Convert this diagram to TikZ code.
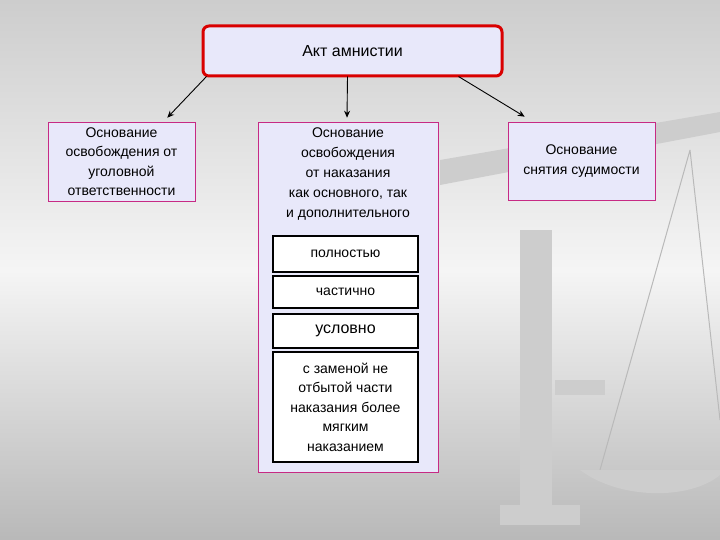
\documentclass[tikz,border=0pt]{standalone}
\usepackage{fontspec}
\setmainfont{Liberation Sans}
\usetikzlibrary{arrows.meta,calc}
\begin{document}
\begin{tikzpicture}[x=1pt,y=-1pt,
  box/.style={draw=magenta!60!violet,line width=0.6pt,fill=lav},
  inner/.style={draw=black,line width=1.8pt,fill=white},
  lbl/.style={align=center,font=\fontsize{14}{19.5}\selectfont},
  arr/.style={-{Stealth[length=7pt,width=6pt]},line width=0.9pt}]
\definecolor{lav}{RGB}{232,232,250}
\definecolor{bgtop}{RGB}{205,205,205}
\definecolor{bgmid}{RGB}{245,245,245}
\definecolor{scl}{RGB}{205,205,205}
\useasboundingbox (0,0) rectangle (720,540);
\shade[top color=bgtop,bottom color=bgmid] (0,0) rectangle (720,270);
\shade[top color=bgmid,bottom color=bgtop!90!black] (0,270) rectangle (720,540);
% faint scales
\fill[scl] (520,230) rectangle (552,520);
\fill[scl] (500,505) rectangle (580,525);
\fill[scl] (440,160) -- (720,112) -- (720,132) -- (440,185) -- cycle;
\draw[scl!90!black,line width=1pt] (690,150) -- (600,470) (690,150) -- (720,420);
\fill[scl] (580,470) .. controls (620,500) and (690,500) .. (720,475) -- (720,470) -- cycle;
\fill[scl] (555,380) rectangle (605,395);
% nodes
\node[draw=red!85!black,line width=3pt,fill=lav,rounded corners=6pt,minimum width=299pt,minimum height=50pt,lbl,font=\fontsize{16}{19}\selectfont] (top) at (352.5,51) {Акт амнистии};
\node[box,minimum width=147pt,minimum height=79pt,lbl] (l) at (121.5,161.5) {Основание\\освобождения от\\уголовной\\ответственности};
\node[box,minimum width=180pt,minimum height=350pt] (m) at (348,297) {};
\node[lbl,anchor=north,font=\fontsize{14}{20}\selectfont] (mt) at (348,124) {Основание\\освобождения\\от наказания\\как основного, так\\и дополнительного};
\node[box,minimum width=147pt,minimum height=78pt,lbl] (r) at (581.5,161) {Основание\\снятия судимости};
\node[inner,minimum width=145pt,minimum height=36pt,lbl] (a) at (345.5,254) {полностью};
\node[inner,minimum width=145pt,minimum height=32pt,lbl] (b) at (345.5,292) {частично};
\node[inner,minimum width=145pt,minimum height=34pt,lbl,font=\fontsize{16}{19}\selectfont] (c) at (345.5,331) {условно};
\node[inner,minimum width=145pt,minimum height=110pt,lbl] (d) at (345.5,407) {с заменой не\\отбытой части\\наказания более\\мягким\\наказанием};
\draw[arr] ($(top.south west)+(5,-1)$) -- ($(l.north east)+(-28,-4)$);
\draw[arr] ($(top.south)+(-5,-1)$) -- ($(m.north)+(-1,-4)$);
\draw[arr] ($(top.south east)+(-45,-1)$) -- ($(r.north west)+(17,-5)$);
\end{tikzpicture}
\end{document}
